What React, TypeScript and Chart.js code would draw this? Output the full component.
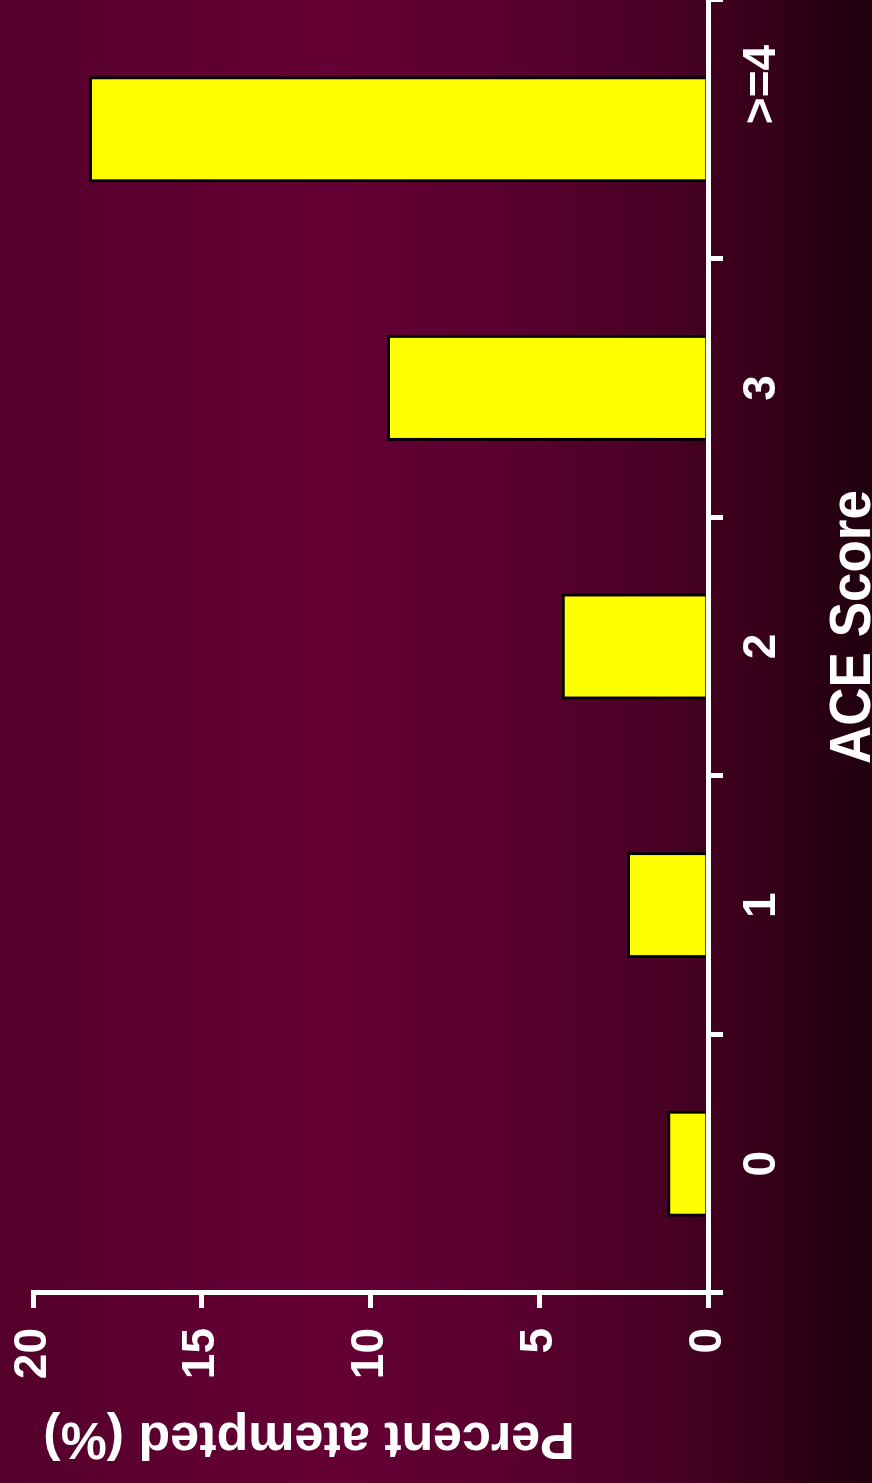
import React, { useEffect, useRef } from "react";
import { Chart, registerables } from "chart.js";

Chart.register(...registerables);

const categories = ["0", "1", "2", "3", ">=4"];
const categoryTickLabels = ["0", "1", "2", "3", "       >=4"];
const percentAttempted = [1.21, 2.4, 4.33, 9.51, 18.34];
const valueAxisMin = 0;
const valueAxisMax = 20;
const valueAxisStep = 5;
const xTitle = "ACE Score";
const yTitle = "Percent atempted (%)";

const FONT = "'Liberation Sans', Arial, Helvetica, sans-serif";

const titlePlugin = {
  id: "customTitles",
  afterDraw(chart: any) {
    const ctx = chart.ctx as CanvasRenderingContext2D;
    ctx.save();
    ctx.fillStyle = "#ffffff";
    ctx.textAlign = "center";
    ctx.textBaseline = "alphabetic";
    // x-axis title
    ctx.save();
    ctx.font = `bold 53px ${FONT}`;
    ctx.translate(856, 870);
    ctx.scale(1, 1.1);
    ctx.fillText(xTitle, 0, 0);
    ctx.restore();
    // y-axis title
    ctx.save();
    ctx.font = `bold 52px ${FONT}`;
    ctx.translate(60, 309);
    ctx.rotate(-Math.PI / 2);
    ctx.fillText(yTitle, 0, 0);
    ctx.restore();
    ctx.restore();
  },
};

export default function App() {
  const ref = useRef<HTMLCanvasElement>(null);

  useEffect(() => {
    if (!ref.current) return;
    const chart = new Chart(ref.current, {
      type: "bar",
      data: {
        labels: categories,
        datasets: [
          {
            data: percentAttempted,
            backgroundColor: "#ffff00",
            borderColor: "#000000",
            borderWidth: 3,
            barPercentage: 0.41,
            categoryPercentage: 1,
          },
        ],
      },
      options: {
        animation: false,
        responsive: false,
        maintainAspectRatio: false,
        layout: { padding: { top: 33, right: 0, left: 0, bottom: 0 } },
        plugins: {
          legend: { display: false },
          tooltip: { enabled: false },
        },
        scales: {
          x: {
            z: 1,
            grid: {
              display: true,
              drawOnChartArea: false,
              drawTicks: true,
              tickLength: 15,
              color: "#ffffff",
              lineWidth: 5,
              offset: true,
            },
            border: { display: true, color: "#ffffff", width: 5 },
            ticks: {
              color: "#ffffff",
              font: { family: FONT, weight: "bold", size: 46 },
              padding: 12,
              maxRotation: 0,
              minRotation: 0,
              autoSkip: false,
              callback: (_v: any, i: number) => categoryTickLabels[i],
            },
            afterFit: (s: any) => {
              s.height = 164;
              s.paddingLeft = 0;
              s.paddingRight = 0;
            },
          },
          y: {
            z: 1,
            min: valueAxisMin,
            max: valueAxisMax,
            grid: {
              display: true,
              drawOnChartArea: false,
              drawTicks: true,
              tickLength: 15,
              color: "#ffffff",
              lineWidth: 5,
            },
            border: { display: true, color: "#ffffff", width: 5 },
            ticks: {
              stepSize: valueAxisStep,
              color: "#ffffff",
              font: { family: FONT, weight: "bold", size: 46 },
              padding: 20,
            },
            afterFit: (s: any) => {
              s.width = 190;
              s.paddingTop = 0;
              s.paddingBottom = 0;
            },
          },
        },
      },
      plugins: [titlePlugin],
    });
    return () => chart.destroy();
  }, []);

  return (
    <div
      style={{
        position: "fixed",
        left: 0,
        top: 0,
        width: 872,
        height: 1483,
        overflow: "hidden",
        background:
          "linear-gradient(to right, #54002b 0%, #5e0031 20%, #650035 38%, #5a002f 58%, #4a0026 75%, #360019 88%, #1f000e 100%)",
      }}
    >
      <canvas
        ref={ref}
        width={1483}
        height={872}
        style={{
          position: "absolute",
          left: 0,
          top: 0,
          width: "1483px",
          height: "872px",
          transformOrigin: "0 0",
          transform: "translate(0px, 1483px) rotate(-90deg)",
        }}
      />
    </div>
  );
}
